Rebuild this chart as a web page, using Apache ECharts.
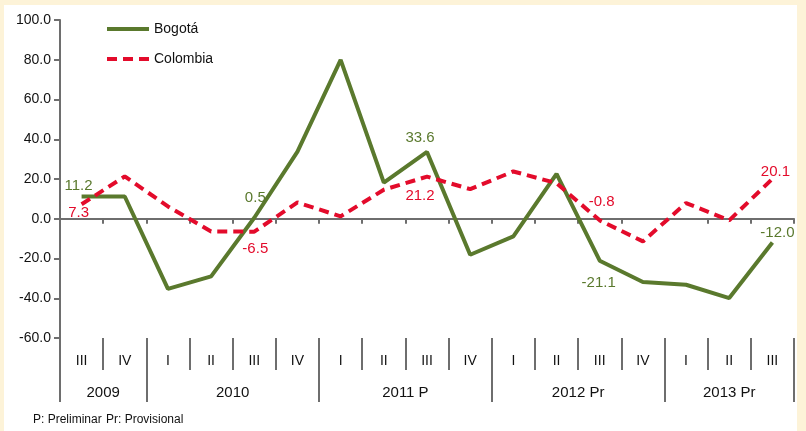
<!DOCTYPE html>
<html>
<head>
<meta charset="utf-8">
<script src="https://cdn.jsdelivr.net/npm/echarts@6/dist/echarts.min.js"></script>
<style>
  html, body { margin: 0; padding: 0; }
  #wrap { position: relative; width: 806px; height: 431px; background: #FDF3D8; }
  #paper { position: absolute; left: 4px; top: 5px; width: 793px; height: 426px; background: #fff; }
  #chart { position: absolute; left: 0; top: 0; width: 806px; height: 431px; }
</style>
</head>
<body>
<div id="wrap"><div id="paper"></div><div id="chart"></div></div>
<script>
var quarters = ['III', 'IV', 'I', 'II', 'III', 'IV', 'I', 'II', 'III', 'IV', 'I', 'II', 'III', 'IV', 'I', 'II', 'III'];
var years = ['2009', '2010', '2011 P', '2012 Pr', '2013 Pr'];
var quartersPerYear = [2, 4, 4, 4, 3];
var bogota = [11.2, 11.2, -35.3, -29.0, 0.5, 33.8, 79.9, 18.2, 33.6, -18.1, -8.9, 22.6, -21.1, -31.8, -33.2, -39.9, -12.0];
var colombia = [7.3, 21.3, 6.2, -6.4, -6.5, 8.2, 1.2, 14.6, 21.2, 14.9, 23.8, 17.9, -0.8, -11.4, 7.9, -0.8, 20.1];
var yTicks = [-60, 100, 20];

var axisGray = '#6E6E6E';
var green = '#5A792D';
var red = '#E30B2B';
var font = 'Liberation Sans';

// year axis works on half slots so labels can sit on boundaries
var halfSlots = [], yearAt = {}, yearEdges = {};
var s = 0;
quartersPerYear.forEach(function (n, i) {
  yearEdges[2 * s] = true;
  yearAt[2 * s + n] = years[i];
  s += n;
});
yearEdges[2 * s] = true;
for (var k = 0; k <= 2 * s; k++) halfSlots.push('h' + k);

// which points get a value label, and how
var bogotaLabels = {
  0: { position: 'top', distance: 3, offset: [-3, 0] },
  4: { position: 'top', distance: 12, offset: [1, 0] },
  8: { position: 'top', distance: 7, offset: [-7, 0] },
  12: { position: 'bottom', distance: 15, offset: [-1, 0] },
  16: { position: 'top', distance: 2, offset: [5, 0] }
};
var colombiaLabels = {
  0: { position: 'bottom', distance: 1, offset: [-3, 0] },
  4: { position: 'bottom', distance: 10, offset: [1, 0] },
  8: { position: 'bottom', distance: 12, offset: [-7, 0] },
  12: { position: 'top', distance: 11, offset: [2, 0] },
  16: { position: 'top', distance: -1, offset: [3, 0] }
};

function buildData(values, labels, color) {
  return values.map(function (v, i) {
    var l = labels[i];
    if (!l) return v;
    return {
      value: v,
      label: {
        show: true, position: l.position, distance: l.distance, offset: l.offset,
        color: color, fontFamily: font, fontSize: 15,
        formatter: function (p) { return p.value.toFixed(1); }
      }
    };
  });
}

var myChart = echarts.init(document.getElementById('chart'));
var option = {
  backgroundColor: 'transparent',
  animation: false,
  textStyle: { fontFamily: font },
  grid: { left: 60, right: 12, top: 20, bottom: 93, containLabel: false },
  legend: {
    orient: 'vertical', left: 105, top: 22, padding: 0,
    itemWidth: 42, itemHeight: 14, itemGap: 16,
    itemStyle: { opacity: 0 },
    lineStyle: { width: 4 },
    textStyle: { fontSize: 14, color: '#111', fontFamily: font },
    data: ['Bogotá', 'Colombia']
  },
  xAxis: [
    {
      type: 'category', data: quarters, boundaryGap: true, position: 'bottom',
      axisLine: { onZero: true, lineStyle: { color: axisGray, width: 2 } },
      axisTick: { show: true, interval: 0, length: 5, lineStyle: { color: axisGray, width: 2 } },
      axisLabel: { show: false }, splitLine: { show: false }
    },
    {
      type: 'category', data: quarters, boundaryGap: true, position: 'bottom',
      axisLine: { show: false, onZero: false },
      axisTick: { show: true, interval: 0, length: 32, lineStyle: { color: axisGray, width: 2 } },
      axisLabel: { show: true, interval: 0, margin: 16, fontSize: 14, color: '#111' },
      splitLine: { show: false }
    },
    {
      type: 'category', data: halfSlots, boundaryGap: false, position: 'bottom',
      axisLine: { show: false, onZero: false },
      axisTick: {
        show: true, length: 64, lineStyle: { color: axisGray, width: 2 },
        interval: function (idx) { return !!yearEdges[idx]; }
      },
      axisLabel: {
        show: true, margin: 47, fontSize: 15, color: '#111',
        interval: function (idx) { return !!yearAt[idx]; },
        formatter: function (v, idx) { return yearAt[idx] || ''; }
      },
      splitLine: { show: false }
    }
  ],
  yAxis: {
    type: 'value', min: yTicks[0], max: yTicks[1], interval: yTicks[2],
    axisLine: { show: true, lineStyle: { color: axisGray, width: 2 } },
    axisTick: { show: true, length: 6, lineStyle: { color: axisGray, width: 2 } },
    axisLabel: { fontSize: 14, color: '#111', margin: 9, formatter: function (v) { return v.toFixed(1); } },
    splitLine: { show: false }
  },
  graphic: [
    { type: 'text', left: 33, top: 414, style: { text: 'P: Preliminar', font: '12px "Liberation Sans"', fill: '#111' } },
    { type: 'text', left: 106, top: 414, style: { text: 'Pr: Provisional', font: '12px "Liberation Sans"', fill: '#111' } }
  ],
  series: [
    {
      name: 'Bogotá', type: 'line', xAxisIndex: 0,
      symbol: 'circle', symbolSize: 0.1, showSymbol: true,
      color: green, lineStyle: { color: green, width: 4 },
      data: buildData(bogota, bogotaLabels, green)
    },
    {
      name: 'Colombia', type: 'line', xAxisIndex: 0,
      symbol: 'circle', symbolSize: 0.1, showSymbol: true,
      color: red, lineStyle: { color: red, width: 4, type: [10, 6] },
      data: buildData(colombia, colombiaLabels, red)
    }
  ]
};
myChart.setOption(option);
</script>
</body>
</html>
